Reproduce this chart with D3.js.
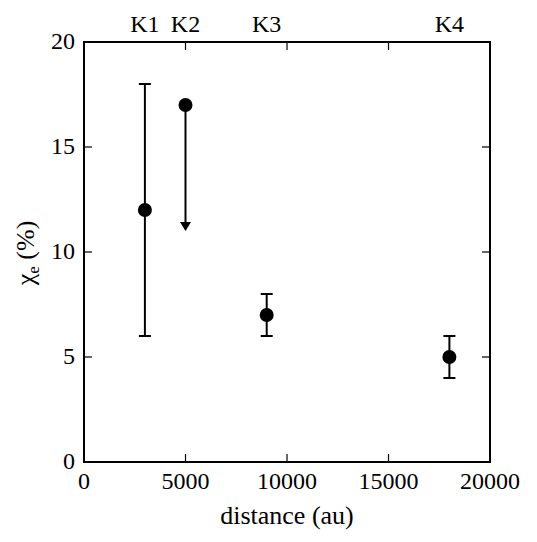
<!DOCTYPE html>
<html><head><meta charset="utf-8">
<script src="https://cdn.jsdelivr.net/npm/d3@7"></script>
<style>body{margin:0;background:#fff}</style>
</head><body>
<svg id="c" width="537" height="542"></svg>
<script>
const names = ["K1","K2","K3","K4"];
const distance = [3000, 5000, 9000, 18000];
const chi = [12, 17, 7, 5];
const errLow = [6, null, 6, 4];
const errHigh = [18, null, 8, 6];
const upperLimitName = "K2";
const upperLimitTo = 11;
const xTicks = [0, 5000, 10000, 15000, 20000];
const yTicks = [0, 5, 10, 15, 20];

const svg = d3.select("#c");
const FF = '"Liberation Serif"';
const m = {l:84, r:490, t:42, b:462};
const x = d3.scaleLinear().domain([0,20000]).range([m.l, m.r]);
const y = d3.scaleLinear().domain([0,20]).range([m.b, m.t]);
const tl = 8;

svg.append("rect").attr("x",m.l).attr("y",m.t).attr("width",m.r-m.l).attr("height",m.b-m.t)
  .attr("fill","none").attr("stroke","#000").attr("stroke-width",2);

const g = svg.append("g").attr("stroke","#000").attr("stroke-width",1.2);
xTicks.forEach(t=>{
  g.append("line").attr("x1",x(t)).attr("x2",x(t)).attr("y1",m.b).attr("y2",m.b-tl);
  g.append("line").attr("x1",x(t)).attr("x2",x(t)).attr("y1",m.t).attr("y2",m.t+tl);
});
yTicks.forEach(t=>{
  g.append("line").attr("y1",y(t)).attr("y2",y(t)).attr("x1",m.l).attr("x2",m.l+tl);
  g.append("line").attr("y1",y(t)).attr("y2",y(t)).attr("x1",m.r).attr("x2",m.r-tl);
});

svg.append("g").selectAll("text").data(xTicks).join("text")
  .attr("x",d=>x(d)).attr("y",489).attr("text-anchor","middle")
  .style("font-family",FF).attr("font-size",24).text(d=>d);
svg.append("g").selectAll("text").data(yTicks).join("text")
  .attr("x",75).attr("y",d=>y(d)+7).attr("text-anchor","end")
  .style("font-family",FF).attr("font-size",24).text(d=>d);

svg.append("g").selectAll("text").data(names).join("text")
  .attr("x",(d,i)=>x(distance[i])).attr("y",32).attr("text-anchor","middle")
  .style("font-family",FF).attr("font-size",24).text(d=>d);

svg.append("text").attr("x",(m.l+m.r)/2).attr("y",524).attr("text-anchor","middle")
  .style("font-family",FF).attr("font-size",26).text("distance (au)");
const yl = svg.append("text").attr("transform",`translate(34,253) rotate(-90)`)
  .attr("text-anchor","middle").style("font-family",FF).attr("font-size",26);
yl.append("tspan").text("χ");
yl.append("tspan").attr("font-size",17).attr("dy",5).text("e");
yl.append("tspan").attr("dy",-5).text(" (%)");

const eb = svg.append("g").attr("stroke","#000").attr("stroke-width",2);
names.forEach((n,i)=>{
  const cx = x(distance[i]);
  if (n === upperLimitName) {
    eb.append("line").attr("x1",cx).attr("x2",cx).attr("y1",y(chi[i])).attr("y2",y(upperLimitTo)-8);
    svg.append("path").attr("d",`M${cx-5.5},${y(upperLimitTo)-9} L${cx+5.5},${y(upperLimitTo)-9} L${cx},${y(upperLimitTo)} Z`).attr("fill","#000");
  } else {
    eb.append("line").attr("x1",cx).attr("x2",cx).attr("y1",y(errLow[i])).attr("y2",y(errHigh[i]));
    [errLow[i], errHigh[i]].forEach(v=>{
      eb.append("line").attr("x1",cx-6).attr("x2",cx+6).attr("y1",y(v)).attr("y2",y(v));
    });
  }
});

svg.append("g").selectAll("circle").data(chi).join("circle")
  .attr("cx",(d,i)=>x(distance[i])).attr("cy",d=>y(d)).attr("r",7).attr("fill","#000");
</script>
</body></html>
